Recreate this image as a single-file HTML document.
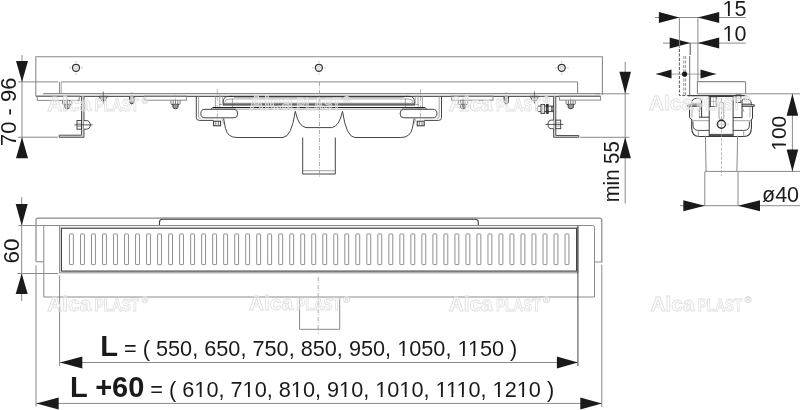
<!DOCTYPE html>
<html><head><meta charset="utf-8"><style>
html,body{margin:0;padding:0;background:#fff;width:800px;height:410px;overflow:hidden}
svg{display:block;will-change:transform}
text{font-family:"Liberation Sans",sans-serif}
</style></head><body>
<svg width="800" height="410" viewBox="0 0 800 410">
<path d="M35.8,96 V56.8 H602.4 V95" stroke="#8a8a8a" stroke-width="1.1" fill="none" />
<line x1="18.00" y1="81.90" x2="58.30" y2="81.90" stroke="#8a8a8a" stroke-width="1" />
<line x1="61.00" y1="81.90" x2="577.60" y2="81.90" stroke="#8a8a8a" stroke-width="1" />
<path d="M59.5,81.9 V94" stroke="#8a8a8a" stroke-width="1" fill="none" />
<path d="M61.2,82 V94" stroke="#8a8a8a" stroke-width="0.8" fill="none" />
<path d="M577.6,81.9 V93.5" stroke="#8a8a8a" stroke-width="1.1" fill="none" />
<line x1="43.60" y1="93.60" x2="600.00" y2="93.60" stroke="#8a8a8a" stroke-width="1.2" />
<line x1="35.80" y1="96.30" x2="600.00" y2="96.30" stroke="#333" stroke-width="1" />
<path d="M44.5,93.6 Q43.4,93.6 43.4,94.6" stroke="#8a8a8a" stroke-width="0.8" fill="none" />
<rect x="37.30" y="96.10" width="41.90" height="4.30" stroke="#8a8a8a" stroke-width="1" fill="none" rx="0"/>
<rect x="559.40" y="96.10" width="41.20" height="4.00" stroke="#8a8a8a" stroke-width="1" fill="none" rx="0"/>
<rect x="144.50" y="96.10" width="42.00" height="4.10" stroke="#8a8a8a" stroke-width="1" fill="none" rx="0"/>
<rect x="451.70" y="96.10" width="41.30" height="4.10" stroke="#8a8a8a" stroke-width="1" fill="none" rx="0"/>
<circle cx="76" cy="67.8" r="3.5" stroke="#333" stroke-width="1.3" fill="none"/>
<circle cx="76" cy="67.8" r="1.5" stroke="#aaa" stroke-width="0.7" fill="none"/>
<line x1="80.80" y1="67.80" x2="83.00" y2="67.80" stroke="#bbb" stroke-width="0.8" />
<line x1="71.20" y1="67.80" x2="69.00" y2="67.80" stroke="#bbb" stroke-width="0.8" />
<line x1="76.00" y1="72.60" x2="76.00" y2="74.80" stroke="#bbb" stroke-width="0.8" />
<line x1="76.00" y1="63.00" x2="76.00" y2="60.80" stroke="#bbb" stroke-width="0.8" />
<circle cx="318.9" cy="67.8" r="3.5" stroke="#333" stroke-width="1.3" fill="none"/>
<circle cx="318.9" cy="67.8" r="1.5" stroke="#aaa" stroke-width="0.7" fill="none"/>
<line x1="323.70" y1="67.80" x2="325.90" y2="67.80" stroke="#bbb" stroke-width="0.8" />
<line x1="314.10" y1="67.80" x2="311.90" y2="67.80" stroke="#bbb" stroke-width="0.8" />
<line x1="318.90" y1="72.60" x2="318.90" y2="74.80" stroke="#bbb" stroke-width="0.8" />
<line x1="318.90" y1="63.00" x2="318.90" y2="60.80" stroke="#bbb" stroke-width="0.8" />
<circle cx="561.7" cy="67.8" r="3.5" stroke="#333" stroke-width="1.3" fill="none"/>
<circle cx="561.7" cy="67.8" r="1.5" stroke="#aaa" stroke-width="0.7" fill="none"/>
<line x1="566.50" y1="67.80" x2="568.70" y2="67.80" stroke="#bbb" stroke-width="0.8" />
<line x1="556.90" y1="67.80" x2="554.70" y2="67.80" stroke="#bbb" stroke-width="0.8" />
<line x1="561.70" y1="72.60" x2="561.70" y2="74.80" stroke="#bbb" stroke-width="0.8" />
<line x1="561.70" y1="63.00" x2="561.70" y2="60.80" stroke="#bbb" stroke-width="0.8" />
<path d="M62.6,100.4 V103.60000000000001 Q62.6,104.4 63.400000000000006,104.4 H71.0 Q71.8,104.4 71.8,103.60000000000001 V100.4" stroke="#555" stroke-width="0.8" fill="none" />
<line x1="64.90" y1="100.40" x2="64.90" y2="104.40" stroke="#444" stroke-width="0.7" />
<line x1="67.20" y1="100.40" x2="67.20" y2="104.40" stroke="#444" stroke-width="0.7" />
<line x1="69.50" y1="100.40" x2="69.50" y2="104.40" stroke="#444" stroke-width="0.7" />
<line x1="63.60" y1="104.40" x2="70.80" y2="104.40" stroke="#333" stroke-width="0.9" />
<path d="M64.60000000000001,104.4 V107.0 Q64.60000000000001,108.7 67.2,108.7 Q69.8,108.7 69.8,107.0 V104.4" stroke="#333" stroke-width="0.9" fill="#9a9a9a" />
<line x1="67.20" y1="95.40" x2="67.20" y2="110.40" stroke="#8a8a8a" stroke-width="0.6" stroke-dasharray="2 1"/>
<path d="M170.9,100.4 V103.60000000000001 Q170.9,104.4 171.7,104.4 H179.3 Q180.1,104.4 180.1,103.60000000000001 V100.4" stroke="#555" stroke-width="0.8" fill="none" />
<line x1="173.20" y1="100.40" x2="173.20" y2="104.40" stroke="#444" stroke-width="0.7" />
<line x1="175.50" y1="100.40" x2="175.50" y2="104.40" stroke="#444" stroke-width="0.7" />
<line x1="177.80" y1="100.40" x2="177.80" y2="104.40" stroke="#444" stroke-width="0.7" />
<line x1="171.90" y1="104.40" x2="179.10" y2="104.40" stroke="#333" stroke-width="0.9" />
<path d="M172.9,104.4 V107.0 Q172.9,108.7 175.5,108.7 Q178.1,108.7 178.1,107.0 V104.4" stroke="#333" stroke-width="0.9" fill="#9a9a9a" />
<line x1="175.50" y1="95.40" x2="175.50" y2="110.40" stroke="#8a8a8a" stroke-width="0.6" stroke-dasharray="2 1"/>
<path d="M458.4,100.4 V103.60000000000001 Q458.4,104.4 459.2,104.4 H466.8 Q467.6,104.4 467.6,103.60000000000001 V100.4" stroke="#555" stroke-width="0.8" fill="none" />
<line x1="460.70" y1="100.40" x2="460.70" y2="104.40" stroke="#444" stroke-width="0.7" />
<line x1="463.00" y1="100.40" x2="463.00" y2="104.40" stroke="#444" stroke-width="0.7" />
<line x1="465.30" y1="100.40" x2="465.30" y2="104.40" stroke="#444" stroke-width="0.7" />
<line x1="459.40" y1="104.40" x2="466.60" y2="104.40" stroke="#333" stroke-width="0.9" />
<path d="M460.4,104.4 V107.0 Q460.4,108.7 463,108.7 Q465.6,108.7 465.6,107.0 V104.4" stroke="#333" stroke-width="0.9" fill="#9a9a9a" />
<line x1="463.00" y1="95.40" x2="463.00" y2="110.40" stroke="#8a8a8a" stroke-width="0.6" stroke-dasharray="2 1"/>
<path d="M566.1,100.4 V103.60000000000001 Q566.1,104.4 566.9000000000001,104.4 H574.5 Q575.3000000000001,104.4 575.3000000000001,103.60000000000001 V100.4" stroke="#555" stroke-width="0.8" fill="none" />
<line x1="568.40" y1="100.40" x2="568.40" y2="104.40" stroke="#444" stroke-width="0.7" />
<line x1="570.70" y1="100.40" x2="570.70" y2="104.40" stroke="#444" stroke-width="0.7" />
<line x1="573.00" y1="100.40" x2="573.00" y2="104.40" stroke="#444" stroke-width="0.7" />
<line x1="567.10" y1="104.40" x2="574.30" y2="104.40" stroke="#333" stroke-width="0.9" />
<path d="M568.1,104.4 V107.0 Q568.1,108.7 570.7,108.7 Q573.3000000000001,108.7 573.3000000000001,107.0 V104.4" stroke="#333" stroke-width="0.9" fill="#9a9a9a" />
<line x1="570.70" y1="95.40" x2="570.70" y2="110.40" stroke="#8a8a8a" stroke-width="0.6" stroke-dasharray="2 1"/>
<path d="M129.60000000000002,96.3 V101.5 Q129.60000000000002,103.7 131.8,103.7 Q134.0,103.7 134.0,101.5 V96.3" stroke="#333" stroke-width="1" fill="#d0d0d0" />
<line x1="129.60" y1="99.30" x2="134.00" y2="99.30" stroke="#8a8a8a" stroke-width="0.6" />
<line x1="129.60" y1="101.00" x2="134.00" y2="101.00" stroke="#8a8a8a" stroke-width="0.6" />
<line x1="131.80" y1="92.00" x2="131.80" y2="105.50" stroke="#8a8a8a" stroke-width="0.6" stroke-dasharray="2 1"/>
<path d="M504.1,96.3 V101.5 Q504.1,103.7 506.3,103.7 Q508.5,103.7 508.5,101.5 V96.3" stroke="#333" stroke-width="1" fill="#d0d0d0" />
<line x1="504.10" y1="99.30" x2="508.50" y2="99.30" stroke="#8a8a8a" stroke-width="0.6" />
<line x1="504.10" y1="101.00" x2="508.50" y2="101.00" stroke="#8a8a8a" stroke-width="0.6" />
<line x1="506.30" y1="92.00" x2="506.30" y2="105.50" stroke="#8a8a8a" stroke-width="0.6" stroke-dasharray="2 1"/>
<path d="M99.1,96.3 L101.3,100.6 H105.3 L107.5,96.3 Z" stroke="#444" stroke-width="0.9" fill="#c8c8c8" />
<line x1="103.30" y1="91.50" x2="103.30" y2="103.60" stroke="#444" stroke-width="0.7" />
<path d="M530.1999999999999,96.3 L532.4,100.6 H536.4 L538.6,96.3 Z" stroke="#444" stroke-width="0.9" fill="#c8c8c8" />
<line x1="534.40" y1="91.50" x2="534.40" y2="103.60" stroke="#444" stroke-width="0.7" />
<path d="M81.5,96.3 V135.2 H59.2 V137.3 H84 V96.3" stroke="#555" stroke-width="1" fill="#d8d8d8" />
<path d="M553.6,96.3 V137.3 H578.8 V135.5 H555.8 V96.3" stroke="#555" stroke-width="1" fill="#d8d8d8" />
<rect x="77.00" y="120.60" width="4.50" height="8.60" stroke="#333" stroke-width="0.9" fill="#fff" rx="0"/>
<line x1="77.00" y1="123.30" x2="81.50" y2="123.30" stroke="#777" stroke-width="0.6" />
<line x1="77.00" y1="126.50" x2="81.50" y2="126.50" stroke="#777" stroke-width="0.6" />
<path d="M84,120.60000000000001 H86 Q90.2,120.60000000000001 90.2,124.9 Q90.2,129.20000000000002 86,129.20000000000002 H84" stroke="#333" stroke-width="0.9" fill="#fff" />
<line x1="74.30" y1="124.90" x2="92.60" y2="124.90" stroke="#333" stroke-width="0.8" />
<rect x="555.80" y="120.10" width="4.90" height="8.60" stroke="#333" stroke-width="0.9" fill="#fff" rx="0"/>
<line x1="555.80" y1="122.80" x2="560.70" y2="122.80" stroke="#777" stroke-width="0.6" />
<line x1="555.80" y1="126.00" x2="560.70" y2="126.00" stroke="#777" stroke-width="0.6" />
<path d="M553.6,120.10000000000001 H551.6 Q548,120.10000000000001 548,124.4 Q548,128.70000000000002 551.6,128.70000000000002 H553.6" stroke="#333" stroke-width="0.9" fill="#fff" />
<line x1="545.40" y1="124.40" x2="563.40" y2="124.40" stroke="#333" stroke-width="0.8" />
<path d="M553.6,106.1 H538.5 Q537.2,106.1 537.2,108.8 Q537.2,111.6 538.5,111.6 H553.6" stroke="#333" stroke-width="0.9" fill="none" />
<rect x="541.00" y="104.40" width="3.70" height="9.00" stroke="#333" stroke-width="0.9" fill="#fff" rx="0"/>
<line x1="542.85" y1="104.40" x2="542.85" y2="113.40" stroke="#999" stroke-width="0.7" />
<rect x="546.70" y="104.40" width="1.40" height="9.00" stroke="#222" stroke-width="1" fill="#555" rx="0"/>
<rect x="551.30" y="106.60" width="2.00" height="4.50" stroke="#444" stroke-width="0.6" fill="#888" rx="0"/>
<line x1="535.00" y1="108.80" x2="556.00" y2="108.80" stroke="#bbb" stroke-width="0.5" stroke-dasharray="2 1"/>
<path d="M441.49999999999994,96.1 V117.5 Q441.49999999999994,120.4 438.49999999999994,120.4 H424.29999999999995" stroke="#454545" stroke-width="1" fill="none" />
<path d="M439.19999999999993,96.1 V116.5 Q439.19999999999993,118.4 437.19999999999993,118.4" stroke="#8a8a8a" stroke-width="0.8" fill="none" />
<path d="M403.79999999999995,109.3 H432.79999999999995 Q436.99999999999994,109.3 436.99999999999994,113.5 Q436.99999999999994,117.8 432.79999999999995,117.8 H403.79999999999995 Q400.19999999999993,117.8 400.19999999999993,114 V113 Q400.19999999999993,109.3 403.79999999999995,109.3" stroke="#454545" stroke-width="1" fill="none" />
<line x1="425.00" y1="108.30" x2="401.80" y2="108.30" stroke="#8a8a8a" stroke-width="0.8" />
<line x1="422.40" y1="96.10" x2="422.40" y2="109.30" stroke="#8a8a8a" stroke-width="0.8" />
<line x1="418.00" y1="96.10" x2="418.00" y2="109.30" stroke="#8a8a8a" stroke-width="0.8" />
<line x1="420.50" y1="89.00" x2="420.50" y2="126.00" stroke="#8a8a8a" stroke-width="0.6" stroke-dasharray="4 1.5 1 1.5"/>
<rect x="417.20" y="121.20" width="7.00" height="4.60" stroke="#333" stroke-width="1" fill="#f4f4f4" rx="0"/>
<line x1="422.00" y1="121.20" x2="422.00" y2="125.80" stroke="#555" stroke-width="0.7" />
<line x1="419.40" y1="121.20" x2="419.40" y2="125.80" stroke="#555" stroke-width="0.7" />
<path d="M405.79999999999995,96.4 H409.29999999999995 Q414.4,96.4 414.4,101.5 V105.2" stroke="#333" stroke-width="0.9" fill="none" />
<path d="M403.79999999999995,99 H408.29999999999995 Q412.59999999999997,99 413.19999999999993,102.5" stroke="#8a8a8a" stroke-width="0.8" fill="none" />
<line x1="405.40" y1="98.50" x2="405.40" y2="108.00" stroke="#8a8a8a" stroke-width="0.8" />
<path d="M419.09999999999997,96.2 H415.29999999999995 V104.5 H419.09999999999997" stroke="#8a8a8a" stroke-width="0.7" fill="none" />
<path d="M425.09999999999997,107.5 L426.79999999999995,109.3" stroke="#222" stroke-width="0.9" fill="none" />
<path d="M414.19999999999993,118.4 L412.29999999999995,128.5 Q410.29999999999995,137.5 400.79999999999995,137.5 H354.79999999999995" stroke="#454545" stroke-width="1" fill="none" />
<path d="M415.99999999999994,118.4 L413.99999999999994,124" stroke="#8a8a8a" stroke-width="0.7" fill="none" />
<path d="M196.3,96.1 V117.5 Q196.3,120.4 199.3,120.4 H213.5" stroke="#454545" stroke-width="1" fill="none" />
<path d="M198.6,96.1 V116.5 Q198.6,118.4 200.6,118.4" stroke="#8a8a8a" stroke-width="0.8" fill="none" />
<path d="M234.0,109.3 H205.0 Q200.8,109.3 200.8,113.5 Q200.8,117.8 205.0,117.8 H234.0 Q237.6,117.8 237.6,114 V113 Q237.6,109.3 234.0,109.3" stroke="#454545" stroke-width="1" fill="none" />
<line x1="212.80" y1="108.30" x2="236.00" y2="108.30" stroke="#8a8a8a" stroke-width="0.8" />
<line x1="215.40" y1="96.10" x2="215.40" y2="109.30" stroke="#8a8a8a" stroke-width="0.8" />
<line x1="219.80" y1="96.10" x2="219.80" y2="109.30" stroke="#8a8a8a" stroke-width="0.8" />
<line x1="217.30" y1="89.00" x2="217.30" y2="126.00" stroke="#8a8a8a" stroke-width="0.6" stroke-dasharray="4 1.5 1 1.5"/>
<rect x="213.60" y="121.20" width="7.00" height="4.60" stroke="#333" stroke-width="1" fill="#f4f4f4" rx="0"/>
<line x1="215.80" y1="121.20" x2="215.80" y2="125.80" stroke="#555" stroke-width="0.7" />
<line x1="218.40" y1="121.20" x2="218.40" y2="125.80" stroke="#555" stroke-width="0.7" />
<path d="M232.0,96.4 H228.5 Q223.4,96.4 223.4,101.5 V105.2" stroke="#333" stroke-width="0.9" fill="none" />
<path d="M234.0,99 H229.5 Q225.2,99 224.6,102.5" stroke="#8a8a8a" stroke-width="0.8" fill="none" />
<line x1="232.40" y1="98.50" x2="232.40" y2="108.00" stroke="#8a8a8a" stroke-width="0.8" />
<path d="M218.7,96.2 H222.5 V104.5 H218.7" stroke="#8a8a8a" stroke-width="0.7" fill="none" />
<path d="M212.7,107.5 L211.0,109.3" stroke="#222" stroke-width="0.9" fill="none" />
<path d="M223.6,118.4 L225.5,128.5 Q227.5,137.5 237.0,137.5 H283.0" stroke="#454545" stroke-width="1" fill="none" />
<path d="M221.8,118.4 L223.8,124" stroke="#8a8a8a" stroke-width="0.7" fill="none" />
<line x1="230.00" y1="96.40" x2="407.80" y2="96.40" stroke="#333" stroke-width="0.9" />
<line x1="234.00" y1="97.70" x2="403.80" y2="97.70" stroke="#8a8a8a" stroke-width="0.8" />
<line x1="234.00" y1="99.00" x2="403.80" y2="99.00" stroke="#999" stroke-width="0.7" />
<line x1="223.00" y1="103.30" x2="414.80" y2="103.30" stroke="#777" stroke-width="1" />
<line x1="223.00" y1="104.40" x2="414.80" y2="104.40" stroke="#555" stroke-width="1" />
<line x1="223.00" y1="105.50" x2="414.80" y2="105.50" stroke="#777" stroke-width="0.8" />
<line x1="212.70" y1="107.50" x2="425.10" y2="107.50" stroke="#222" stroke-width="1" />
<line x1="236.00" y1="109.20" x2="401.80" y2="109.20" stroke="#8a8a8a" stroke-width="0.8" />
<path d="M283,137.5 Q291.5,137 295.3,111.3 Q298.5,126.5 306,127.6 H331.79999999999995 Q339.29999999999995,126.5 342.49999999999994,111.3 Q346.29999999999995,137 354.79999999999995,137.5" stroke="#454545" stroke-width="1" fill="none" />
<path d="M302.7,137.5 V174 H335.3 V137.5" stroke="#454545" stroke-width="1" fill="none" />
<line x1="302.70" y1="170.70" x2="335.30" y2="170.70" stroke="#8a8a8a" stroke-width="0.8" />
<line x1="319.50" y1="82.00" x2="319.50" y2="178.00" stroke="#8a8a8a" stroke-width="0.7" stroke-dasharray="4 1.5 1 1.5"/>
<line x1="22.00" y1="55.00" x2="22.00" y2="150.00" stroke="#8a8a8a" stroke-width="1" />
<polygon points="22.00,81.90 16.00,60.90 28.00,60.90" fill="#1a1a1a"/>
<polygon points="22.00,137.20 16.00,158.20 28.00,158.20" fill="#1a1a1a"/>
<line x1="18.00" y1="137.20" x2="58.00" y2="137.20" stroke="#8a8a8a" stroke-width="1" />
<text x="15.6" y="146" font-size="22" font-weight="normal" text-anchor="start" fill="#1a1a1a" transform="rotate(-90 15.6 146)" >70 - 96</text>
<line x1="625.20" y1="62.00" x2="625.20" y2="203.50" stroke="#8a8a8a" stroke-width="1" />
<polygon points="625.20,93.80 619.40,71.80 631.00,71.80" fill="#1a1a1a"/>
<polygon points="625.20,137.30 619.50,158.30 630.90,158.30" fill="#1a1a1a"/>
<line x1="595.00" y1="93.80" x2="629.50" y2="93.80" stroke="#8a8a8a" stroke-width="1" />
<line x1="580.00" y1="137.30" x2="629.50" y2="137.30" stroke="#8a8a8a" stroke-width="1" />
<text x="618.9" y="202.3" font-size="21.8" font-weight="normal" text-anchor="start" fill="#1a1a1a" transform="rotate(-90 618.9 202.3)" textLength="61" lengthAdjust="spacingAndGlyphs">min 55</text>
<line x1="655.00" y1="17.50" x2="745.80" y2="17.50" stroke="#8a8a8a" stroke-width="1" />
<polygon points="679.40,17.50 658.90,12.00 658.90,23.00" fill="#1a1a1a"/>
<polygon points="697.70,17.50 719.20,12.00 719.20,23.00" fill="#1a1a1a"/>
<line x1="663.00" y1="43.10" x2="745.80" y2="43.10" stroke="#8a8a8a" stroke-width="1" />
<polygon points="690.20,43.10 669.70,37.60 669.70,48.60" fill="#1a1a1a"/>
<polygon points="697.70,43.10 719.20,37.60 719.20,48.60" fill="#1a1a1a"/>
<line x1="679.40" y1="17.50" x2="679.40" y2="48.00" stroke="#8a8a8a" stroke-width="1" />
<line x1="697.90" y1="17.50" x2="697.90" y2="82.00" stroke="#8a8a8a" stroke-width="1" />
<line x1="690.20" y1="43.10" x2="690.20" y2="55.00" stroke="#1a1a1a" stroke-width="0.8" />
<text x="722.6" y="15.6" font-size="21.5" font-weight="normal" text-anchor="start" fill="#1a1a1a" >15</text>
<text x="722.6" y="41.2" font-size="21.5" font-weight="normal" text-anchor="start" fill="#1a1a1a" >10</text>
<path d="M679.4,49 V95.6 H697" stroke="#555" stroke-width="1" fill="none" stroke-dasharray="3 1.5"/>
<path d="M683.8,56 V95" stroke="#8a8a8a" stroke-width="0.9" fill="none" stroke-dasharray="3 1.5"/>
<path d="M685.6,56 V95" stroke="#8a8a8a" stroke-width="0.9" fill="none" stroke-dasharray="3 1.5"/>
<line x1="689.60" y1="56.00" x2="689.60" y2="95.60" stroke="#8a8a8a" stroke-width="1.3" />
<line x1="656.00" y1="74.10" x2="716.00" y2="74.10" stroke="#8a8a8a" stroke-width="0.8" />
<polygon points="656.00,74.10 671.50,69.60 671.50,78.60" fill="#1a1a1a"/>
<polygon points="716.00,74.10 700.50,69.60 700.50,78.60" fill="#1a1a1a"/>
<circle cx="684.6" cy="74.1" r="2.6" fill="#1a1a1a"/>
<path d="M697.4,93.8 V81.6 H744.6 Q745.6,81.6 745.6,82.6 V93.8" stroke="#8a8a8a" stroke-width="1.1" fill="none" />
<line x1="697.40" y1="93.80" x2="800.00" y2="93.80" stroke="#8a8a8a" stroke-width="1" />
<line x1="688.00" y1="95.60" x2="746.00" y2="95.60" stroke="#454545" stroke-width="1.2" />
<path d="M691.3,105.2 V103.5 Q691.8,98.6 696.4,98.4 H699 Q701.6,98.6 701.6,101 V117.2" stroke="#3a3a3a" stroke-width="1" fill="none" />
<path d="M751.4,105.2 V103.5 Q750.9,99.2 746.3,99.1 H744.5 Q742,99.1 742,101 V117.6" stroke="#3a3a3a" stroke-width="1" fill="none" />
<line x1="692.00" y1="103.30" x2="701.60" y2="103.30" stroke="#8a8a8a" stroke-width="0.7" />
<line x1="742.00" y1="103.60" x2="751.00" y2="103.60" stroke="#8a8a8a" stroke-width="0.7" />
<path d="M687.7,106.3 V105 H700.5 M687.7,106.3 H700.5" stroke="#3a3a3a" stroke-width="1" fill="none" />
<path d="M754.3,106.3 V104.8 H741.9 M754.3,106.3 H741.9" stroke="#3a3a3a" stroke-width="1" fill="none" />
<path d="M689.5,106.3 V117.2 L692,120.2" stroke="#3a3a3a" stroke-width="1" fill="none" />
<path d="M752.5,106.3 V118 L751,120.5" stroke="#3a3a3a" stroke-width="1" fill="none" />
<line x1="692.00" y1="106.30" x2="692.00" y2="117.50" stroke="#8a8a8a" stroke-width="0.7" />
<line x1="750.00" y1="106.30" x2="750.00" y2="117.50" stroke="#8a8a8a" stroke-width="0.7" />
<line x1="699.40" y1="106.30" x2="699.40" y2="117.20" stroke="#8a8a8a" stroke-width="0.7" />
<line x1="699.00" y1="117.20" x2="709.20" y2="117.20" stroke="#3a3a3a" stroke-width="1" />
<line x1="733.10" y1="117.60" x2="742.30" y2="117.60" stroke="#3a3a3a" stroke-width="1" />
<path d="M691.7,119.3 V128 Q691.7,136.5 699.5,136.5 H743.7 Q751.4,136.5 751.4,128 V119.3" stroke="#3a3a3a" stroke-width="1.1" fill="none" />
<path d="M693,121.6 V125 Q693,130.4 698.5,130.4 H709.2 M749.4,121.6 V125 Q749.4,130.4 743.9,130.4 H733.1" stroke="#3a3a3a" stroke-width="0.9" fill="none" />
<line x1="691.70" y1="120.70" x2="709.20" y2="120.70" stroke="#8a8a8a" stroke-width="0.8" />
<line x1="733.10" y1="120.70" x2="751.40" y2="120.70" stroke="#8a8a8a" stroke-width="0.8" />
<line x1="698.40" y1="130.40" x2="698.40" y2="136.50" stroke="#8a8a8a" stroke-width="0.8" />
<line x1="743.70" y1="130.40" x2="743.70" y2="136.50" stroke="#8a8a8a" stroke-width="0.8" />
<path d="M699,112 L701.3,106.5 M744,112 L742,106.5" stroke="#8a8a8a" stroke-width="0.7" fill="none" />
<rect x="709.20" y="96.50" width="23.90" height="39.80" stroke="#3a3a3a" stroke-width="1" fill="none" rx="0"/>
<rect x="709.70" y="134.20" width="22.90" height="2.00" stroke="#3a3a3a" stroke-width="0.6" fill="#555" rx="0"/>
<rect x="719.00" y="102.10" width="4.80" height="17.60" stroke="#8a8a8a" stroke-width="0.8" fill="none" rx="2.4"/>
<circle cx="721.4" cy="124.2" r="4" stroke="#222" stroke-width="1.4" fill="none"/>
<line x1="715.70" y1="124.20" x2="728.90" y2="124.20" stroke="#aaa" stroke-width="0.6" />
<line x1="721.50" y1="98.00" x2="721.50" y2="176.00" stroke="#8a8a8a" stroke-width="0.6" stroke-dasharray="3 1.5"/>
<rect x="710.60" y="96.80" width="5.60" height="9.80" stroke="#3a3a3a" stroke-width="0.8" fill="none" rx="0"/>
<line x1="710.60" y1="101.50" x2="716.20" y2="101.50" stroke="#8a8a8a" stroke-width="0.6" />
<line x1="713.40" y1="96.80" x2="713.40" y2="106.60" stroke="#8a8a8a" stroke-width="0.5" />
<rect x="736.00" y="94.90" width="4.80" height="7.70" stroke="#3a3a3a" stroke-width="0.8" fill="none" rx="0"/>
<line x1="736.00" y1="98.60" x2="740.80" y2="98.60" stroke="#8a8a8a" stroke-width="0.6" />
<path d="M705.4,135.7 L706.1,171.6 M737.6,135.7 L736.9,171.6" stroke="#8a8a8a" stroke-width="1" fill="none" />
<path d="M704.8,171.6 V205.7 M738,171.6 V205.7" stroke="#8a8a8a" stroke-width="1" fill="none" />
<line x1="704.80" y1="171.40" x2="800.00" y2="171.40" stroke="#8a8a8a" stroke-width="1" />
<line x1="792.40" y1="93.80" x2="792.40" y2="171.40" stroke="#8a8a8a" stroke-width="1" />
<polygon points="792.40,93.80 786.60,115.80 798.20,115.80" fill="#1a1a1a"/>
<polygon points="792.40,171.40 786.60,149.40 798.20,149.40" fill="#1a1a1a"/>
<text x="786.5" y="150.8" font-size="21" font-weight="normal" text-anchor="start" fill="#1a1a1a" transform="rotate(-90 786.5 150.8)" >100</text>
<line x1="680.00" y1="205.70" x2="800.00" y2="205.70" stroke="#8a8a8a" stroke-width="1" />
<polygon points="704.80,205.70 683.30,200.20 683.30,211.20" fill="#1a1a1a"/>
<polygon points="738.00,205.70 760.00,200.20 760.00,211.20" fill="#1a1a1a"/>
<text x="762" y="201.8" font-size="21.5" font-weight="normal" text-anchor="start" fill="#1a1a1a" >ø40</text>
<path d="M36,261.8 V220 Q36,218.1 38,218.1 H600 Q601.8,218.1 601.8,220 V262 H594.5" stroke="#8a8a8a" stroke-width="1.2" fill="none" />
<path d="M36,261.8 H43.8" stroke="#8a8a8a" stroke-width="1" fill="none" />
<path d="M159.5,225.5 V222.2 Q159.5,219.2 162.5,219.2 H475.3 Q478.3,219.2 478.3,222.2 V225.5" stroke="#3c3c3c" stroke-width="1.1" fill="none" />
<line x1="162.50" y1="218.20" x2="475.30" y2="218.20" stroke="#9a9a9a" stroke-width="1" />
<path d="M43.8,225.5 V297 H594.5 V227.5 Q594.5,225.5 592.5,225.5 H43.8" stroke="#8a8a8a" stroke-width="1" fill="none" />
<line x1="18.50" y1="225.50" x2="43.80" y2="225.50" stroke="#8a8a8a" stroke-width="1" />
<line x1="36.00" y1="265.20" x2="36.00" y2="406.60" stroke="#8a8a8a" stroke-width="1" />
<line x1="601.80" y1="264.60" x2="601.80" y2="407.00" stroke="#8a8a8a" stroke-width="1" />
<rect x="59.60" y="225.60" width="518.30" height="47.20" stroke="#8a8a8a" stroke-width="1" fill="none" rx="0"/>
<rect x="61.40" y="228.20" width="515.20" height="42.90" stroke="#454545" stroke-width="1.2" fill="none" rx="0"/>
<rect x="69.50" y="234.00" width="3.90" height="30.60" stroke="#8a8a8a" stroke-width="0.95" fill="none" rx="0.5"/>
<rect x="80.51" y="234.00" width="3.90" height="30.60" stroke="#8a8a8a" stroke-width="0.95" fill="none" rx="0.5"/>
<rect x="91.52" y="234.00" width="3.90" height="30.60" stroke="#8a8a8a" stroke-width="0.95" fill="none" rx="0.5"/>
<rect x="102.54" y="234.00" width="3.90" height="30.60" stroke="#8a8a8a" stroke-width="0.95" fill="none" rx="0.5"/>
<rect x="113.55" y="234.00" width="3.90" height="30.60" stroke="#8a8a8a" stroke-width="0.95" fill="none" rx="0.5"/>
<rect x="124.56" y="234.00" width="3.90" height="30.60" stroke="#8a8a8a" stroke-width="0.95" fill="none" rx="0.5"/>
<rect x="135.57" y="234.00" width="3.90" height="30.60" stroke="#8a8a8a" stroke-width="0.95" fill="none" rx="0.5"/>
<rect x="146.58" y="234.00" width="3.90" height="30.60" stroke="#8a8a8a" stroke-width="0.95" fill="none" rx="0.5"/>
<rect x="157.60" y="234.00" width="3.90" height="30.60" stroke="#8a8a8a" stroke-width="0.95" fill="none" rx="0.5"/>
<rect x="168.61" y="234.00" width="3.90" height="30.60" stroke="#8a8a8a" stroke-width="0.95" fill="none" rx="0.5"/>
<rect x="179.62" y="234.00" width="3.90" height="30.60" stroke="#8a8a8a" stroke-width="0.95" fill="none" rx="0.5"/>
<rect x="190.63" y="234.00" width="3.90" height="30.60" stroke="#8a8a8a" stroke-width="0.95" fill="none" rx="0.5"/>
<rect x="201.64" y="234.00" width="3.90" height="30.60" stroke="#8a8a8a" stroke-width="0.95" fill="none" rx="0.5"/>
<rect x="212.66" y="234.00" width="3.90" height="30.60" stroke="#8a8a8a" stroke-width="0.95" fill="none" rx="0.5"/>
<rect x="223.67" y="234.00" width="3.90" height="30.60" stroke="#8a8a8a" stroke-width="0.95" fill="none" rx="0.5"/>
<rect x="234.68" y="234.00" width="3.90" height="30.60" stroke="#8a8a8a" stroke-width="0.95" fill="none" rx="0.5"/>
<rect x="245.69" y="234.00" width="3.90" height="30.60" stroke="#8a8a8a" stroke-width="0.95" fill="none" rx="0.5"/>
<rect x="256.70" y="234.00" width="3.90" height="30.60" stroke="#8a8a8a" stroke-width="0.95" fill="none" rx="0.5"/>
<rect x="267.72" y="234.00" width="3.90" height="30.60" stroke="#8a8a8a" stroke-width="0.95" fill="none" rx="0.5"/>
<rect x="278.73" y="234.00" width="3.90" height="30.60" stroke="#8a8a8a" stroke-width="0.95" fill="none" rx="0.5"/>
<rect x="289.74" y="234.00" width="3.90" height="30.60" stroke="#8a8a8a" stroke-width="0.95" fill="none" rx="0.5"/>
<rect x="300.75" y="234.00" width="3.90" height="30.60" stroke="#8a8a8a" stroke-width="0.95" fill="none" rx="0.5"/>
<rect x="311.76" y="234.00" width="3.90" height="30.60" stroke="#8a8a8a" stroke-width="0.95" fill="none" rx="0.5"/>
<rect x="322.78" y="234.00" width="3.90" height="30.60" stroke="#8a8a8a" stroke-width="0.95" fill="none" rx="0.5"/>
<rect x="333.79" y="234.00" width="3.90" height="30.60" stroke="#8a8a8a" stroke-width="0.95" fill="none" rx="0.5"/>
<rect x="344.80" y="234.00" width="3.90" height="30.60" stroke="#8a8a8a" stroke-width="0.95" fill="none" rx="0.5"/>
<rect x="355.81" y="234.00" width="3.90" height="30.60" stroke="#8a8a8a" stroke-width="0.95" fill="none" rx="0.5"/>
<rect x="366.82" y="234.00" width="3.90" height="30.60" stroke="#8a8a8a" stroke-width="0.95" fill="none" rx="0.5"/>
<rect x="377.84" y="234.00" width="3.90" height="30.60" stroke="#8a8a8a" stroke-width="0.95" fill="none" rx="0.5"/>
<rect x="388.85" y="234.00" width="3.90" height="30.60" stroke="#8a8a8a" stroke-width="0.95" fill="none" rx="0.5"/>
<rect x="399.86" y="234.00" width="3.90" height="30.60" stroke="#8a8a8a" stroke-width="0.95" fill="none" rx="0.5"/>
<rect x="410.87" y="234.00" width="3.90" height="30.60" stroke="#8a8a8a" stroke-width="0.95" fill="none" rx="0.5"/>
<rect x="421.88" y="234.00" width="3.90" height="30.60" stroke="#8a8a8a" stroke-width="0.95" fill="none" rx="0.5"/>
<rect x="432.90" y="234.00" width="3.90" height="30.60" stroke="#8a8a8a" stroke-width="0.95" fill="none" rx="0.5"/>
<rect x="443.91" y="234.00" width="3.90" height="30.60" stroke="#8a8a8a" stroke-width="0.95" fill="none" rx="0.5"/>
<rect x="454.92" y="234.00" width="3.90" height="30.60" stroke="#8a8a8a" stroke-width="0.95" fill="none" rx="0.5"/>
<rect x="465.93" y="234.00" width="3.90" height="30.60" stroke="#8a8a8a" stroke-width="0.95" fill="none" rx="0.5"/>
<rect x="476.94" y="234.00" width="3.90" height="30.60" stroke="#8a8a8a" stroke-width="0.95" fill="none" rx="0.5"/>
<rect x="487.96" y="234.00" width="3.90" height="30.60" stroke="#8a8a8a" stroke-width="0.95" fill="none" rx="0.5"/>
<rect x="498.97" y="234.00" width="3.90" height="30.60" stroke="#8a8a8a" stroke-width="0.95" fill="none" rx="0.5"/>
<rect x="509.98" y="234.00" width="3.90" height="30.60" stroke="#8a8a8a" stroke-width="0.95" fill="none" rx="0.5"/>
<rect x="520.99" y="234.00" width="3.90" height="30.60" stroke="#8a8a8a" stroke-width="0.95" fill="none" rx="0.5"/>
<rect x="532.00" y="234.00" width="3.90" height="30.60" stroke="#8a8a8a" stroke-width="0.95" fill="none" rx="0.5"/>
<rect x="543.02" y="234.00" width="3.90" height="30.60" stroke="#8a8a8a" stroke-width="0.95" fill="none" rx="0.5"/>
<rect x="554.03" y="234.00" width="3.90" height="30.60" stroke="#8a8a8a" stroke-width="0.95" fill="none" rx="0.5"/>
<rect x="565.04" y="234.00" width="3.90" height="30.60" stroke="#8a8a8a" stroke-width="0.95" fill="none" rx="0.5"/>
<line x1="59.60" y1="275.50" x2="59.60" y2="366.00" stroke="#8a8a8a" stroke-width="1" />
<line x1="577.90" y1="225.60" x2="577.90" y2="366.00" stroke="#454545" stroke-width="1" />
<path d="M299.6,297 V329.3 H339.7 V297" stroke="#8a8a8a" stroke-width="1" fill="none" />
<line x1="318.20" y1="277.00" x2="318.20" y2="334.00" stroke="#8a8a8a" stroke-width="0.7" stroke-dasharray="4 1.5 1 1.5"/>
<line x1="21.70" y1="197.00" x2="21.70" y2="301.00" stroke="#8a8a8a" stroke-width="1" />
<polygon points="21.70,225.40 15.70,203.90 27.70,203.90" fill="#1a1a1a"/>
<polygon points="21.70,273.50 15.70,294.00 27.70,294.00" fill="#1a1a1a"/>
<line x1="17.40" y1="273.50" x2="58.00" y2="273.50" stroke="#8a8a8a" stroke-width="1" />
<text x="19" y="251" font-size="22.5" font-weight="normal" text-anchor="middle" fill="#1a1a1a" transform="rotate(-90 19 251)" >60</text>
<line x1="59.60" y1="362.50" x2="578.00" y2="362.50" stroke="#8a8a8a" stroke-width="1" />
<polygon points="60.00,362.50 82.30,356.50 82.30,368.50" fill="#1a1a1a"/>
<polygon points="577.90,362.50 556.90,356.50 556.90,368.50" fill="#1a1a1a"/>
<line x1="36.00" y1="403.40" x2="601.80" y2="403.40" stroke="#8a8a8a" stroke-width="1" />
<polygon points="36.40,403.40 58.70,397.40 58.70,409.40" fill="#1a1a1a"/>
<polygon points="601.80,403.40 580.30,397.40 580.30,409.40" fill="#1a1a1a"/>
<text x="100.3" y="355.8" font-size="21.7" fill="#1a1a1a"><tspan font-size="29" font-weight="bold">L</tspan> = ( 550, 650, 750, 850, 950, 1050, 1150 )</text>
<text x="69.9" y="397" font-size="21.7" fill="#1a1a1a"><tspan font-size="29" font-weight="bold">L +60</tspan> = ( 610, 710, 810, 910, 1010, 1110, 1210 )</text>
<rect x="723.46" y="12.81" width="4.47" height="3.44" fill="#fff"/><rect x="729.82" y="12.81" width="4.08" height="3.44" fill="#fff"/>
<rect x="723.46" y="38.41" width="4.47" height="3.44" fill="#fff"/><rect x="729.82" y="38.41" width="4.08" height="3.44" fill="#fff"/>
<g transform="rotate(-90 786.5 150.8)"><rect x="787.34" y="148.07" width="4.37" height="3.36" fill="#fff"/><rect x="793.56" y="148.07" width="3.99" height="3.36" fill="#fff"/></g>
<rect x="398.03" y="352.98" width="4.51" height="3.47" fill="#fff"/><rect x="404.45" y="352.98" width="4.12" height="3.47" fill="#fff"/>
<rect x="458.32" y="352.98" width="4.51" height="3.47" fill="#fff"/><rect x="464.75" y="352.98" width="4.12" height="3.47" fill="#fff"/>
<rect x="468.76" y="352.98" width="4.51" height="3.47" fill="#fff"/><rect x="475.18" y="352.98" width="4.12" height="3.47" fill="#fff"/>
<rect x="195.24" y="394.18" width="4.51" height="3.47" fill="#fff"/><rect x="201.66" y="394.18" width="4.12" height="3.47" fill="#fff"/>
<rect x="243.47" y="394.18" width="4.51" height="3.47" fill="#fff"/><rect x="249.89" y="394.18" width="4.12" height="3.47" fill="#fff"/>
<rect x="291.71" y="394.18" width="4.51" height="3.47" fill="#fff"/><rect x="298.13" y="394.18" width="4.12" height="3.47" fill="#fff"/>
<rect x="339.94" y="394.18" width="4.51" height="3.47" fill="#fff"/><rect x="346.36" y="394.18" width="4.12" height="3.47" fill="#fff"/>
<rect x="376.11" y="394.18" width="4.51" height="3.47" fill="#fff"/><rect x="382.53" y="394.18" width="4.12" height="3.47" fill="#fff"/>
<rect x="400.24" y="394.18" width="4.51" height="3.47" fill="#fff"/><rect x="406.66" y="394.18" width="4.12" height="3.47" fill="#fff"/>
<rect x="436.42" y="394.18" width="4.51" height="3.47" fill="#fff"/><rect x="442.85" y="394.18" width="4.12" height="3.47" fill="#fff"/>
<rect x="446.86" y="394.18" width="4.51" height="3.47" fill="#fff"/><rect x="453.28" y="394.18" width="4.12" height="3.47" fill="#fff"/>
<rect x="457.31" y="394.18" width="4.51" height="3.47" fill="#fff"/><rect x="463.74" y="394.18" width="4.12" height="3.47" fill="#fff"/>
<rect x="493.49" y="394.18" width="4.51" height="3.47" fill="#fff"/><rect x="499.91" y="394.18" width="4.12" height="3.47" fill="#fff"/>
<rect x="517.61" y="394.18" width="4.51" height="3.47" fill="#fff"/><rect x="524.03" y="394.18" width="4.12" height="3.47" fill="#fff"/>
<g transform="translate(47.3,111.2)" fill="#fff" fill-opacity="0.33" stroke="#dedede" stroke-width="0.8"><text x="0" y="0" font-size="19.5" font-weight="bold" textLength="44" lengthAdjust="spacingAndGlyphs">Alca</text><text x="47.3" y="0" font-size="16.3" font-weight="bold" textLength="44.5" lengthAdjust="spacingAndGlyphs">PLAST</text><text x="94.3" y="-7.6" font-size="9.2" stroke-width="0.5">®</text></g>
<g transform="translate(249,110.2)" fill="#fff" fill-opacity="0.33" stroke="#dedede" stroke-width="0.8"><text x="0" y="0" font-size="19.5" font-weight="bold" textLength="44" lengthAdjust="spacingAndGlyphs">Alca</text><text x="47.3" y="0" font-size="16.3" font-weight="bold" textLength="44.5" lengthAdjust="spacingAndGlyphs">PLAST</text><text x="94.3" y="-7.6" font-size="9.2" stroke-width="0.5">®</text></g>
<g transform="translate(448.7,110.8)" fill="#fff" fill-opacity="0.33" stroke="#dedede" stroke-width="0.8"><text x="0" y="0" font-size="19.5" font-weight="bold" textLength="44" lengthAdjust="spacingAndGlyphs">Alca</text><text x="47.3" y="0" font-size="16.3" font-weight="bold" textLength="44.5" lengthAdjust="spacingAndGlyphs">PLAST</text><text x="94.3" y="-7.6" font-size="9.2" stroke-width="0.5">®</text></g>
<g transform="translate(649,110)" fill="#fff" fill-opacity="0.33" stroke="#dedede" stroke-width="0.8"><text x="0" y="0" font-size="19.5" font-weight="bold" textLength="44" lengthAdjust="spacingAndGlyphs">Alca</text><text x="47.3" y="0" font-size="16.3" font-weight="bold" textLength="44.5" lengthAdjust="spacingAndGlyphs">PLAST</text><text x="94.3" y="-7.6" font-size="9.2" stroke-width="0.5">®</text></g>
<g transform="translate(47.3,311)" fill="#fff" fill-opacity="0.33" stroke="#dedede" stroke-width="0.8"><text x="0" y="0" font-size="19.5" font-weight="bold" textLength="44" lengthAdjust="spacingAndGlyphs">Alca</text><text x="47.3" y="0" font-size="16.3" font-weight="bold" textLength="44.5" lengthAdjust="spacingAndGlyphs">PLAST</text><text x="94.3" y="-7.6" font-size="9.2" stroke-width="0.5">®</text></g>
<g transform="translate(249,310.3)" fill="#fff" fill-opacity="0.33" stroke="#dedede" stroke-width="0.8"><text x="0" y="0" font-size="19.5" font-weight="bold" textLength="44" lengthAdjust="spacingAndGlyphs">Alca</text><text x="47.3" y="0" font-size="16.3" font-weight="bold" textLength="44.5" lengthAdjust="spacingAndGlyphs">PLAST</text><text x="94.3" y="-7.6" font-size="9.2" stroke-width="0.5">®</text></g>
<g transform="translate(448.7,310.5)" fill="#fff" fill-opacity="0.33" stroke="#dedede" stroke-width="0.8"><text x="0" y="0" font-size="19.5" font-weight="bold" textLength="44" lengthAdjust="spacingAndGlyphs">Alca</text><text x="47.3" y="0" font-size="16.3" font-weight="bold" textLength="44.5" lengthAdjust="spacingAndGlyphs">PLAST</text><text x="94.3" y="-7.6" font-size="9.2" stroke-width="0.5">®</text></g>
<g transform="translate(650.5,310.5)" fill="#fff" fill-opacity="0.33" stroke="#dedede" stroke-width="0.8"><text x="0" y="0" font-size="19.5" font-weight="bold" textLength="44" lengthAdjust="spacingAndGlyphs">Alca</text><text x="47.3" y="0" font-size="16.3" font-weight="bold" textLength="44.5" lengthAdjust="spacingAndGlyphs">PLAST</text><text x="94.3" y="-7.6" font-size="9.2" stroke-width="0.5">®</text></g>
</svg>
</body></html>
